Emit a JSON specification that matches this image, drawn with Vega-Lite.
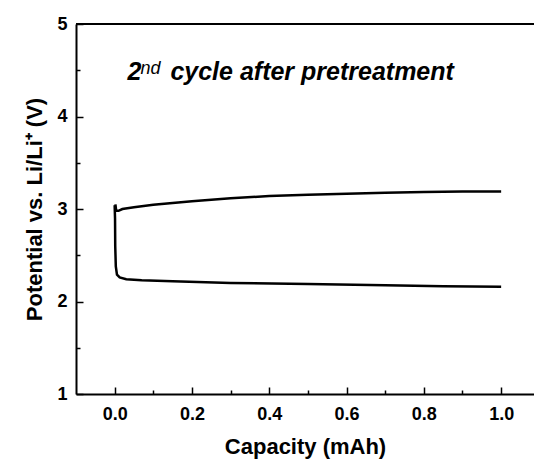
{
  "$schema": "https://vega.github.io/schema/vega-lite/v6.json",
  "width": 458,
  "height": 370,
  "autosize": {"type": "none"},
  "padding": {"left": 76, "top": 24, "right": 0, "bottom": 69},
  "background": "white",
  "config": {
    "view": {"stroke": null},
    "font": "Liberation Sans",
    "axis": {"grid": false, "domainColor": "black", "domainWidth": 2, "tickColor": "black", "tickWidth": 1.5, "labelFont": "Liberation Sans", "labelFontWeight": "bold", "labelFontSize": 18, "labelColor": "black", "titleFont": "Liberation Sans", "titleFontWeight": "bold", "titleFontSize": 22, "titleColor": "black"}
  },
  "datasets": {
    "curves": [
      {"series": "discharge", "i": 0, "cap": 0.0, "v": 3.04},
      {"series": "discharge", "i": 1, "cap": 0.001, "v": 2.9},
      {"series": "discharge", "i": 2, "cap": 0.0015, "v": 2.6},
      {"series": "discharge", "i": 3, "cap": 0.003, "v": 2.38},
      {"series": "discharge", "i": 4, "cap": 0.006, "v": 2.29},
      {"series": "discharge", "i": 5, "cap": 0.013, "v": 2.26},
      {"series": "discharge", "i": 6, "cap": 0.03, "v": 2.24},
      {"series": "discharge", "i": 7, "cap": 0.07, "v": 2.23},
      {"series": "discharge", "i": 8, "cap": 0.15, "v": 2.22},
      {"series": "discharge", "i": 9, "cap": 0.3, "v": 2.2},
      {"series": "discharge", "i": 10, "cap": 0.5, "v": 2.19},
      {"series": "discharge", "i": 11, "cap": 0.7, "v": 2.175},
      {"series": "discharge", "i": 12, "cap": 0.85, "v": 2.165},
      {"series": "discharge", "i": 13, "cap": 1.0, "v": 2.16},
      {"series": "charge", "i": 0, "cap": 0.002, "v": 3.05},
      {"series": "charge", "i": 1, "cap": 0.004, "v": 2.98},
      {"series": "charge", "i": 2, "cap": 0.01, "v": 2.98},
      {"series": "charge", "i": 3, "cap": 0.02, "v": 3.0},
      {"series": "charge", "i": 4, "cap": 0.05, "v": 3.02},
      {"series": "charge", "i": 5, "cap": 0.1, "v": 3.045},
      {"series": "charge", "i": 6, "cap": 0.2, "v": 3.085},
      {"series": "charge", "i": 7, "cap": 0.3, "v": 3.115},
      {"series": "charge", "i": 8, "cap": 0.4, "v": 3.14},
      {"series": "charge", "i": 9, "cap": 0.5, "v": 3.155},
      {"series": "charge", "i": 10, "cap": 0.6, "v": 3.165},
      {"series": "charge", "i": 11, "cap": 0.7, "v": 3.175},
      {"series": "charge", "i": 12, "cap": 0.8, "v": 3.185},
      {"series": "charge", "i": 13, "cap": 0.9, "v": 3.19},
      {"series": "charge", "i": 14, "cap": 1.0, "v": 3.19}
    ],
    "one": [{"k": 1}]
  },
  "layer": [
    {
      "data": {"name": "curves"},
      "mark": {"type": "line", "color": "black", "strokeWidth": 2.5, "clip": true},
      "encoding": {
        "x": {"field": "cap", "type": "quantitative", "scale": {"domain": [-0.1, 1.085], "nice": false, "zero": false},
          "axis": {"title": "Capacity (mAh)", "titlePadding": 13, "values": [0, 0.1, 0.2, 0.3, 0.4, 0.5, 0.6, 0.7, 0.8, 0.9, 1.0],
            "labelExpr": "round(datum.value*10) % 2 == 0 ? format(datum.value, '.1f') : ''",
            "tickSize": {"condition": {"test": "round(datum.value*10) % 2 == 0", "value": -7}, "value": -4},
            "labelPadding": 18}},
        "y": {"field": "v", "type": "quantitative", "scale": {"domain": [1, 5], "nice": false, "zero": false},
          "axis": {"title": "Potential vs. Li/Li⁺ (V)", "titlePadding": 10, "values": [1, 1.5, 2, 2.5, 3, 3.5, 4, 4.5, 5],
            "labelExpr": "datum.value % 1 == 0 ? format(datum.value, 'd') : ''",
            "tickSize": {"condition": {"test": "datum.value % 1 == 0", "value": -7}, "value": -4},
            "labelPadding": 16}},
        "detail": {"field": "series"},
        "order": {"field": "i", "type": "quantitative"}
      }
    },
    {
      "data": {"name": "one"},
      "mark": {"type": "rule", "color": "black", "strokeWidth": 2},
      "encoding": {"y": {"datum": 5}}
    },
    {
      "data": {"name": "one"},
      "mark": {"type": "text", "font": "Liberation Sans", "fontWeight": "bold", "fontStyle": "italic", "fontSize": 25, "align": "left", "baseline": "alphabetic", "color": "black"},
      "encoding": {"x": {"datum": 0.033}, "y": {"datum": 4.395}, "text": {"value": "2"}}
    },
    {
      "data": {"name": "one"},
      "mark": {"type": "text", "font": "Liberation Sans", "fontStyle": "italic", "fontSize": 18, "align": "left", "baseline": "alphabetic", "color": "black", "dx": 13, "dy": -6},
      "encoding": {"x": {"datum": 0.033}, "y": {"datum": 4.395}, "text": {"value": "nd"}}
    },
    {
      "data": {"name": "one"},
      "mark": {"type": "text", "font": "Liberation Sans", "fontWeight": "bold", "fontStyle": "italic", "fontSize": 25, "align": "left", "baseline": "alphabetic", "color": "black", "dx": 43},
      "encoding": {"x": {"datum": 0.033}, "y": {"datum": 4.395}, "text": {"value": "cycle after pretreatment"}}
    }
  ]
}
